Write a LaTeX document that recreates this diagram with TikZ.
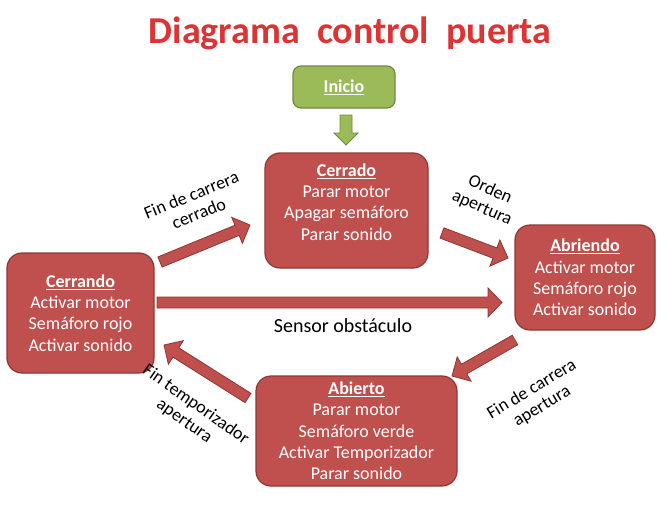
\documentclass[tikz,border=0pt]{standalone}
\usepackage{fontspec}
\setmainfont{Carlito}
\usetikzlibrary{calc}
\definecolor{boxred}{HTML}{C0504D}
\definecolor{boxredline}{HTML}{8C3836}
\definecolor{boxgreen}{HTML}{9BBB59}
\definecolor{boxgreenline}{HTML}{71893F}
\definecolor{titlered}{HTML}{DC3434}
\newcommand\blkarrow[6]{% style, from, to, shaft half, head half, head length
  \path ($(#3)!#6pt!(#2)$) coordinate (hb);
  \draw[#1] ($(#2)!#4pt!90:(#3)$) -- ($(hb)!#4pt!90:(#3)$) -- ($(hb)!#5pt!90:(#3)$) -- (#3)
    -- ($(hb)!#5pt!-90:(#3)$) -- ($(hb)!#4pt!-90:(#3)$) -- ($(#2)!#4pt!-90:(#3)$) -- cycle;
}
\begin{document}
\begin{tikzpicture}[x=1pt,y=-1pt,
  box/.style={draw=boxredline, line width=1.2pt, fill=boxred, rounded corners=15pt,
    text=white, align=center, font=\fontsize{18}{21.3}\selectfont, inner sep=0pt},
  startbox/.style={draw=boxgreenline, line width=1.2pt, fill=boxgreen, rounded corners=8pt,
    text=white, align=center, font=\fontsize{18}{21.3}\selectfont\bfseries, inner sep=0pt},
  lbl/.style={align=center, font=\fontsize{18}{20}\selectfont, inner sep=0pt},
  redarrow/.style={draw=boxredline, line width=0.8pt, fill=boxred, line join=miter},
  greenarrow/.style={draw=boxgreenline, line width=0.8pt, fill=boxgreen, line join=miter}]
\useasboundingbox (0,0) rectangle (670,506);

\node[font=\fontsize{38}{40}\selectfont\bfseries, text=titlered, inner sep=0pt] (title) at (350,33)
  {Diagrama\hspace{0.45em}control\hspace{0.45em}puerta};

\node[startbox, minimum width=102, minimum height=42] (inicio) at (344,87) {\underline{Inicio}};

\node[box, minimum width=163, minimum height=115] (cerrado) at (346.5,210.5)
  {\textbf{\underline{Cerrado}}\\Parar motor\\Apagar semáforo\\Parar sonido\\[-4pt]\mbox{}};
\node[box, minimum width=140, minimum height=105] (abriendo) at (585,277.5)
  {\textbf{\underline{Abriendo}}\\Activar motor\\Semáforo rojo\\Activar sonido};
\node[box, minimum width=147, minimum height=120] (cerrando) at (80.5,313)
  {\textbf{\underline{Cerrando}}\\Activar motor\\Semáforo rojo\\Activar sonido};
\node[box, minimum width=201, minimum height=110] (abierto) at (356.5,431)
  {\textbf{\underline{Abierto}}\\Parar motor\\Semáforo verde\\Activar Temporizador\\Parar sonido};

% arrow end points
\coordinate (g1) at (346,115);
\coordinate (g2) at (346,145);
\coordinate (a1s) at (160,262);
\coordinate (a1e) at (250,225);
\coordinate (a2s) at (442,233);
\coordinate (a2e) at (508,258);
\coordinate (a3s) at (157,302.5);
\coordinate (a3e) at (502,302.5);
\coordinate (a4s) at (515,340);
\coordinate (a4e) at (452,376);
\coordinate (a5s) at (248,398);
\coordinate (a5e) at (164,345);

\blkarrow{greenarrow}{g1}{g2}{6}{12}{12}
\blkarrow{redarrow}{a1s}{a1e}{5.5}{14}{14}
\blkarrow{redarrow}{a2s}{a2e}{5.5}{14}{14}
\blkarrow{redarrow}{a3s}{a3e}{5.5}{14.5}{14}
\blkarrow{redarrow}{a4s}{a4e}{5.5}{14}{14}
\blkarrow{redarrow}{a5s}{a5e}{5.5}{14}{14}

\node[lbl, rotate=22] (l1) at (195,204) {Fin de carrera\\cerrado};
\node[lbl, rotate=-24] (l2) at (486,199) {Orden\\apertura};
\node[lbl, font=\fontsize{20}{22}\selectfont] (l3) at (343,326) {Sensor obstáculo};
\node[lbl, rotate=31] (l4) at (537,398) {Fin de carrera\\apertura};
\node[lbl, rotate=-35] (l5) at (190,413) {Fin temporizador\\apertura};
\end{tikzpicture}
\end{document}
